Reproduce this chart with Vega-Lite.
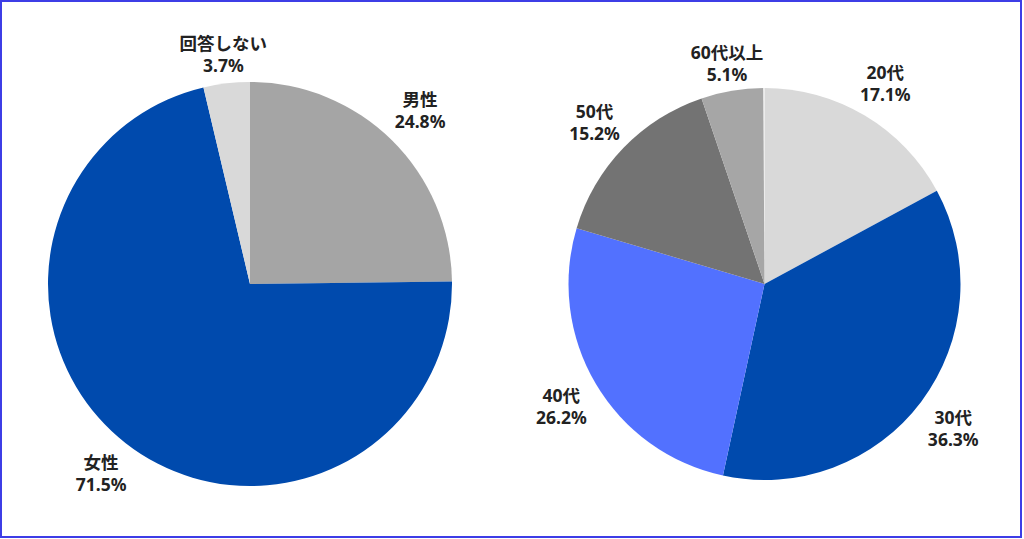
{
  "$schema": "https://vega.github.io/schema/vega-lite/v6.json",
  "width": 1024,
  "height": 539,
  "autosize": {"type": "fit", "contains": "padding"},
  "padding": {"left": 1, "top": 1, "right": 3, "bottom": 2},
  "background": "white",
  "config": {
    "view": {"stroke": "#3d3de6", "strokeWidth": 2},
    "font": "Noto Sans, Noto Sans CJK JP",
    "text": {"fontSize": 17.5, "fontWeight": "bold", "fill": "#222222", "font": "Noto Sans, Noto Sans CJK JP"}
  },
  "data": {
    "values": [
      {"chart": "性別", "label": "男性", "value": 0.248, "rank": 1},
      {"chart": "性別", "label": "女性", "value": 0.715, "rank": 2},
      {"chart": "性別", "label": "回答しない", "value": 0.037, "rank": 3},
      {"chart": "年代", "label": "20代", "value": 0.171, "rank": 1},
      {"chart": "年代", "label": "30代", "value": 0.363, "rank": 2},
      {"chart": "年代", "label": "40代", "value": 0.262, "rank": 3},
      {"chart": "年代", "label": "50代", "value": 0.152, "rank": 4},
      {"chart": "年代", "label": "60代以上", "value": 0.051, "rank": 5}
    ]
  },
  "encoding": {
    "x": {"field": "chart", "type": "nominal", "axis": null,
          "scale": {"type": "point", "domain": ["性別", "年代"], "padding": 0.49125, "align": 0.49258}},
    "y": {"datum": "pie", "type": "nominal", "axis": null,
          "scale": {"type": "point", "align": 0.528}},
    "theta": {"field": "value", "type": "quantitative", "stack": true},
    "order": {"field": "rank", "type": "quantitative"},
    "detail": {"field": "label", "type": "nominal"}
  },
  "layer": [
    {
      "transform": [{"filter": "datum.chart === '性別'"}],
      "mark": {"type": "arc", "outerRadius": 202},
      "encoding": {
        "color": {"field": "label", "type": "nominal", "legend": null,
          "scale": {"domain": ["男性", "女性", "回答しない", "20代", "30代", "40代", "50代", "60代以上"],
                    "range": ["#a5a5a5", "#004aad", "#d9d9d9", "#d9d9d9", "#004aad", "#5271ff", "#737373", "#a6a6a6"]}}
      }
    },
    {
      "transform": [{"filter": "datum.chart === '年代'"}],
      "mark": {"type": "arc", "outerRadius": 196},
      "encoding": {
        "color": {"field": "label", "type": "nominal", "legend": null}
      }
    },
    {
      "transform": [{"filter": "datum.chart === '性別'"}],
      "mark": {"type": "text", "radius": 242, "dy": -11},
      "encoding": {"text": {"condition": {"test": "datum.label !== '回答しない'", "field": "label", "type": "nominal"}, "value": ""}}
    },
    {
      "transform": [{"filter": "datum.chart === '性別'"}],
      "mark": {"type": "text", "radius": 242, "dy": 11},
      "encoding": {"text": {"condition": {"test": "datum.label !== '回答しない'", "field": "value", "type": "quantitative", "format": ".1%"}, "value": ""}}
    },
    {
      "transform": [{"filter": "datum.chart === '性別'"}],
      "mark": {"type": "text", "radius": 230, "dy": -11},
      "encoding": {"text": {"condition": {"test": "datum.label === '回答しない'", "field": "label", "type": "nominal"}, "value": ""}}
    },
    {
      "transform": [{"filter": "datum.chart === '性別'"}],
      "mark": {"type": "text", "radius": 230, "dy": 11},
      "encoding": {"text": {"condition": {"test": "datum.label === '回答しない'", "field": "value", "type": "quantitative", "format": ".1%"}, "value": ""}}
    },
    {
      "transform": [{"filter": "datum.chart === '年代'"}],
      "mark": {"type": "text", "radius": 236, "dy": -7},
      "encoding": {"text": {"condition": {"test": "datum.label !== '60代以上'", "field": "label", "type": "nominal"}, "value": ""}}
    },
    {
      "transform": [{"filter": "datum.chart === '年代'"}],
      "mark": {"type": "text", "radius": 236, "dy": 15},
      "encoding": {"text": {"condition": {"test": "datum.label !== '60代以上'", "field": "value", "type": "quantitative", "format": ".1%"}, "value": ""}}
    },
    {
      "transform": [{"filter": "datum.chart === '年代'"}],
      "mark": {"type": "text", "radius": 226, "dy": -7},
      "encoding": {"text": {"condition": {"test": "datum.label === '60代以上'", "field": "label", "type": "nominal"}, "value": ""}}
    },
    {
      "transform": [{"filter": "datum.chart === '年代'"}],
      "mark": {"type": "text", "radius": 226, "dy": 15},
      "encoding": {"text": {"condition": {"test": "datum.label === '60代以上'", "field": "value", "type": "quantitative", "format": ".1%"}, "value": ""}}
    }
  ]
}
